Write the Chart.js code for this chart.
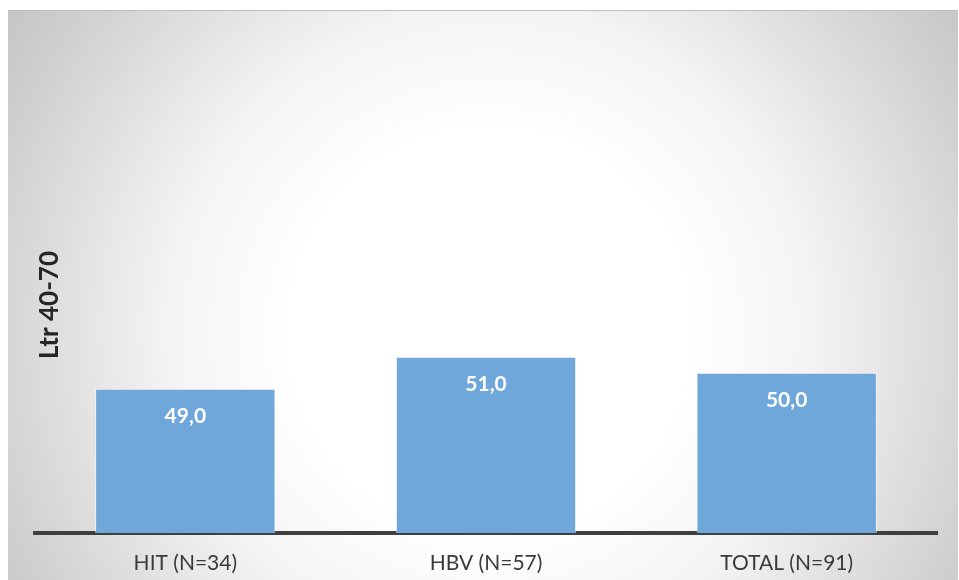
<!DOCTYPE html>
<html>
<head>
<meta charset="utf-8">
<script src="https://cdn.jsdelivr.net/npm/chart.js@4"></script>
<style>
  body { margin: 0; background: #fff; }
  #page { position: relative; width: 959px; height: 580px; overflow: hidden; }
  #panel {
    position: absolute; left: 8px; top: 10px; width: 950px; height: 570px;
    border-top: 1px solid #bdbdbd;
    background: radial-gradient(circle at 482px 320px, #ffffff 0, #ffffff 200px, #f4f4f4 320px, #d6d6d6 480px, #c3c3c3 590px);
  }
  #myChart { position: absolute; left: 0; top: 0; }
</style>
</head>
<body>
<div id="page">
  <div id="panel">
    <canvas id="myChart" width="950" height="570"></canvas>
  </div>
</div>
<script>
// groups and mean values (litres, 40-70 band)
const groups = ["HIT (N=34)", "HBV (N=57)", "TOTAL (N=91)"];
const means = [49.0, 51.0, 50.0];
const axisTitle = "Ltr 40-70";
const yMin = 40;
const yMax = 70;

// white value text inside the top of each bar
const valueLabels = {
  id: 'valueLabels',
  afterDatasetsDraw(chart) {
    const ctx = chart.ctx;
    const meta = chart.getDatasetMeta(0);
    ctx.save();
    ctx.fillStyle = '#ffffff';
    ctx.font = 'bold 21px Lato';
    ctx.textAlign = 'center';
    ctx.textBaseline = 'middle';
    meta.data.forEach(function(bar, i) {
      ctx.fillText(means[i].toFixed(1).replace('.', ','), bar.x, bar.y + 28);
    });
    ctx.restore();
  }
};

// rotated axis caption sitting inside the left edge
const sideTitle = {
  id: 'sideTitle',
  afterDraw(chart) {
    const ctx = chart.ctx;
    const area = chart.chartArea;
    ctx.save();
    ctx.translate(area.left + 15, area.bottom - 228);
    ctx.rotate(-Math.PI / 2);
    ctx.fillStyle = '#262626';
    ctx.font = 'bold 26px Lato';
    ctx.textAlign = 'center';
    ctx.textBaseline = 'middle';
    ctx.fillText(axisTitle, 0, 0);
    ctx.restore();
  }
};

const ctx = document.getElementById('myChart');
const myChart = new Chart(ctx, {
  type: 'bar',
  data: {
    labels: groups,
    datasets: [{
      data: means,
      backgroundColor: '#70a7da',
      borderColor: 'rgba(255,255,255,0.55)',
      borderWidth: { top: 1, left: 1, right: 1, bottom: 0 },
      borderSkipped: false,
      categoryPercentage: 1,
      barPercentage: 0.6
    }]
  },
  options: {
    responsive: false,
    animation: false,
    layout: { padding: { left: 27, right: 21, top: 41, bottom: 0 } },
    plugins: {
      legend: { display: false },
      tooltip: { enabled: false }
    },
    scales: {
      x: {
        grid: { display: false, drawTicks: false },
        border: { display: true, color: '#3f3f3f', width: 4 },
        ticks: { color: '#3a3a3a', font: { family: 'Lato', size: 21 }, padding: 18 },
        afterFit(scale) { scale.height = 48; }
      },
      y: {
        display: false,
        min: yMin,
        max: yMax
      }
    }
  },
  plugins: [valueLabels, sideTitle]
});
</script>
</body>
</html>
